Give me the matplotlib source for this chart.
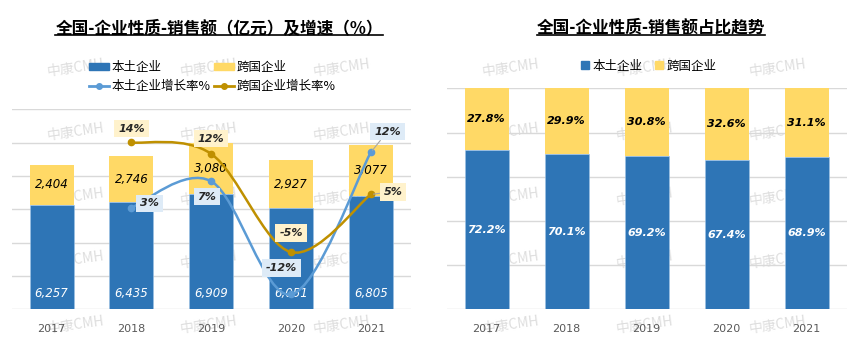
import numpy as np
import matplotlib
matplotlib.use("Agg")
from matplotlib import pyplot as plt
from matplotlib.path import Path
from matplotlib.patches import PathPatch, Patch
from matplotlib.lines import Line2D

years = ["2017", "2018", "2019", "2020", "2021"]
local_sales = [6257, 6435, 6909, 6051, 6805]      # 亿元
mnc_sales = [2404, 2746, 3080, 2927, 3077]
growth_years = [1, 2, 3, 4]                       # 2018-2021
local_growth = [2.8, 7.4, -12.4, 12.46]           # %
mnc_growth = [14.2, 12.2, -5.0, 5.1]
local_share = [72.2, 70.1, 69.2, 67.4, 68.9]      # %
mnc_share = [27.8, 29.9, 30.8, 32.6, 31.1]

BLUE = "#2E75B6"
YELLOW = "#FFD966"
LBLUE = "#5B9BD5"
GOLD = "#BF9000"
GRID = "#D9D9D9"
CJK = ["Noto Sans CJK SC", "DejaVu Sans"]
NUM = "DejaVu Sans"

plt.rcParams["font.family"] = CJK


def smooth_path(xs, ys):
    # Excel-style smoothed line: Catmull-Rom segments as cubic Beziers
    pts = np.column_stack([xs, ys]).astype(float)
    n = len(pts)
    verts = [pts[0]]
    codes = [Path.MOVETO]
    for i in range(n - 1):
        p0 = pts[max(i - 1, 0)]
        p1 = pts[i]
        p2 = pts[i + 1]
        p3 = pts[min(i + 2, n - 1)]
        verts += [p1 + (p2 - p0) / 6, p2 - (p3 - p1) / 6, p2]
        codes += [Path.CURVE4] * 3
    return Path(verts, codes)


def clean(ax):
    for s in ax.spines.values():
        s.set_visible(False)
    ax.tick_params(left=False, right=False, bottom=False,
                   labelleft=False, labelright=False)


fig = plt.figure(figsize=(8.65, 3.5), dpi=100)
x = np.arange(len(years))

# ---------------- left: sales + growth ----------------
ax = fig.add_axes([0.0135, 0.1163, 0.4613, 0.5714])
ax.set_facecolor("none")
ax.bar(x, local_sales, 0.55, color=BLUE, edgecolor="#9DC3E6", lw=0.4, zorder=2)
ax.bar(x, mnc_sales, 0.55, bottom=local_sales, color=YELLOW, zorder=2)
ax.set_ylim(0, 12000)
ax.set_yticks(range(0, 12001, 2000))
ax.set_xlim(-0.5, 4.5)
ax.grid(axis="y", color=GRID, lw=1)
ax.set_axisbelow(True)
ax.set_xticks(x, years, fontsize=8, color="#595959", family=NUM)

for i in x:
    ax.annotate(f"{local_sales[i]:,}", (i, 0), xytext=(0, 11.5),
                textcoords="offset points", ha="center", va="center",
                color="white", fontsize=8.5, style="italic", family=NUM, zorder=3)
    ax.text(i, local_sales[i] + mnc_sales[i] / 2, f"{mnc_sales[i]:,}",
            ha="center", va="center", color="black", fontsize=8.5,
            style="italic", family=NUM, zorder=3)

ax2 = ax.twinx()
ax2.set_ylim(-15, 20)
ax2.set_xlim(-0.5, 4.5)
clean(ax)
clean(ax2)
ax.tick_params(axis="x", pad=7)

for vals, col in [(local_growth, LBLUE), (mnc_growth, GOLD)]:
    ax2.add_patch(PathPatch(smooth_path(growth_years, vals), fc="none",
                            ec=col, lw=1.8, zorder=3))
    ax2.plot(growth_years, vals, "o", color=col, ms=4.5, zorder=4)

local_off = [(13, 3), (-3, -11), (-7, 19), (12, 15)]
mnc_off = [(0, 10), (0, 11), (0, 14), (16, 2)]
for vals, offs, box in [(local_growth, local_off, "#DEEBF7"),
                        (mnc_growth, mnc_off, "#FFF2CC")]:
    for k, (xi, v) in enumerate(zip(growth_years, vals)):
        arrow = None
        if k == 3:
            arrow = dict(arrowstyle="-", color="#A6A6A6", lw=0.8,
                         shrinkA=0, shrinkB=2)
        ax2.annotate(f"{v:.0f}%", (xi, v), xytext=offs[k],
                     textcoords="offset points", ha="center", va="center",
                     fontsize=8, weight="bold", style="italic", family=NUM,
                     color="#262626", zorder=5, arrowprops=arrow,
                     bbox=dict(boxstyle="square,pad=0.35", fc=box, ec="none"))

h_left = [Patch(color=BLUE, label="本土企业"),
          Line2D([], [], color=LBLUE, lw=2, marker="o", ms=4, label="本土企业增长率%"),
          Patch(color=YELLOW, label="跨国企业"),
          Line2D([], [], color=GOLD, lw=2, marker="o", ms=4, label="跨国企业增长率%")]
fig.legend(handles=h_left, ncol=2, loc="center", bbox_to_anchor=(0.245, 0.78),
           frameon=False, fontsize=9, handlelength=1.6, handleheight=0.5,
           handletextpad=0.2, columnspacing=0.3, labelspacing=0.45)

# ---------------- right: share ----------------
bx = fig.add_axes([0.5164, 0.1163, 0.4624, 0.6314])
bx.set_facecolor("none")
bx.bar(x, local_share, 0.55, color=BLUE, edgecolor="#9DC3E6", lw=0.4, zorder=2)
bx.bar(x, mnc_share, 0.55, bottom=local_share, color=YELLOW, zorder=2)
bx.set_ylim(0, 100)
bx.set_yticks(range(0, 101, 20))
bx.set_xlim(-0.5, 4.5)
bx.grid(axis="y", color=GRID, lw=1)
bx.set_axisbelow(True)
bx.set_xticks(x, years, fontsize=8, color="#595959", family=NUM)
clean(bx)
bx.tick_params(axis="x", pad=7)

for i in x:
    bx.text(i, local_share[i] / 2, f"{local_share[i]:.1f}%", ha="center",
            va="center", color="white", fontsize=8, weight="bold",
            style="italic", family=NUM, zorder=3)
    bx.text(i, local_share[i] + mnc_share[i] / 2, f"{mnc_share[i]:.1f}%",
            ha="center", va="center", color="black", fontsize=8,
            weight="bold", style="italic", family=NUM, zorder=3)

h_right = [Patch(color=BLUE, label="本土企业"), Patch(color=YELLOW, label="跨国企业")]
fig.legend(handles=h_right, ncol=2, loc="center", bbox_to_anchor=(0.75, 0.811),
           frameon=False, fontsize=9, handlelength=0.6, handleheight=0.6,
           handletextpad=0.3, columnspacing=1.0)

# ---------------- titles with underline ----------------
titles = [(0.2534, "全国-企业性质-销售额（亿元）及增速（%）"),
          (0.7524, "全国-企业性质-销售额占比趋势")]
tobjs = [fig.text(cx, 0.92, t, ha="center", va="center", fontsize=12,
                  weight="bold", color="black") for cx, t in titles]
fig.canvas.draw()
inv = fig.transFigure.inverted()
for t in tobjs:
    bb = t.get_window_extent().transformed(inv)
    fig.add_artist(Line2D([bb.x0, bb.x1], [0.9, 0.9], color="black", lw=1.2,
                          transform=fig.transFigure))

# ---------------- watermarks ----------------
for cx in [76, 209, 342, 511, 645, 778]:
    for cy in [68, 132, 197, 260, 325]:
        fig.text(cx / 865, 1 - cy / 350, "中康CMH", ha="center", va="center",
                 fontsize=10, color="#DEDEDE", rotation=8, zorder=-1)

fig.savefig("out.png", dpi=100)
